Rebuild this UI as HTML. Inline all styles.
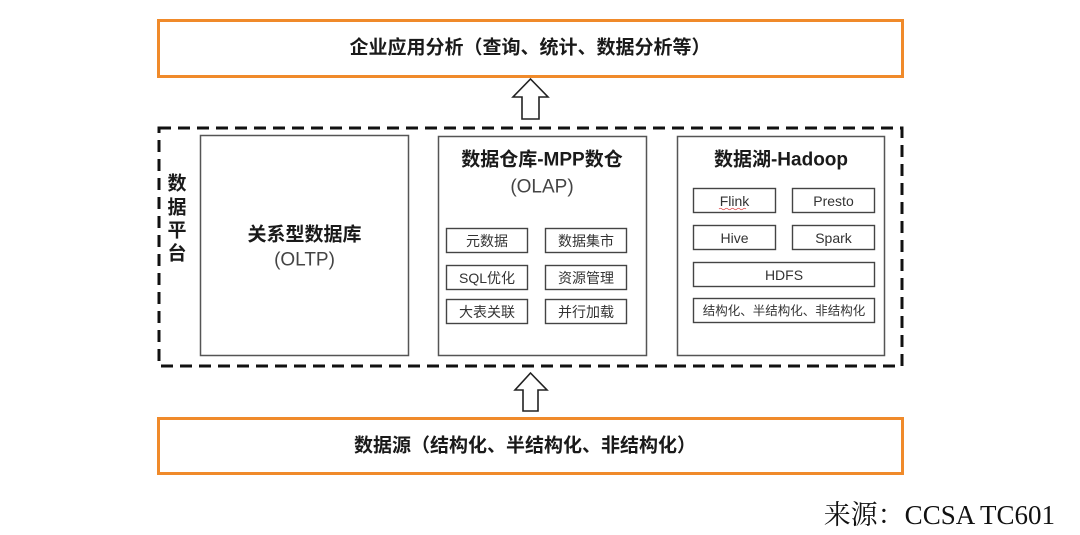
<!DOCTYPE html>
<html>
<head>
<meta charset="utf-8">
<style>
  html,body{margin:0;padding:0;background:#fff;}
  svg{display:block;}
  .b{font-family:"Liberation Sans","Noto Sans CJK SC",sans-serif;font-weight:bold;fill:#1a1a1a;}
  .r{font-family:"Liberation Sans","Noto Sans CJK SC",sans-serif;fill:#444;}
  .s{font-family:"Liberation Sans","Noto Sans CJK SC",sans-serif;fill:#333;font-size:14px;}
</style>
</head>
<body>
<svg width="1080" height="535" viewBox="0 0 1080 535" xmlns="http://www.w3.org/2000/svg">
  <!-- top orange box -->
  <rect x="158.5" y="20.5" width="744" height="56" fill="none" stroke="#f08a2a" stroke-width="3"/>
  <text class="b" x="530" y="48" font-size="19" text-anchor="middle" dominant-baseline="central">企业应用分析（查询、统计、数据分析等）</text>

  <!-- top arrow -->
  <polygon points="530.5,79 548,97 539,97 539,119 522,119 522,97 513,97" fill="#fff" stroke="#222" stroke-width="1.6" stroke-linejoin="miter"/>

  <!-- dashed platform box -->
  <rect x="159" y="128" width="743" height="238" fill="none" stroke="#111" stroke-width="3" stroke-dasharray="12 7"/>

  <!-- 数据平台 -->
  <text class="b" x="177" y="184" font-size="19" text-anchor="middle" dominant-baseline="central">数</text>
  <text class="b" x="177" y="208" font-size="19" text-anchor="middle" dominant-baseline="central">据</text>
  <text class="b" x="177" y="231" font-size="19" text-anchor="middle" dominant-baseline="central">平</text>
  <text class="b" x="177" y="254" font-size="19" text-anchor="middle" dominant-baseline="central">台</text>

  <!-- OLTP box -->
  <rect x="200.5" y="135.5" width="208" height="220" fill="#fff" stroke="#555" stroke-width="1.5"/>
  <text class="b" x="304.5" y="235" font-size="19" text-anchor="middle" dominant-baseline="central">关系型数据库</text>
  <text class="r" x="304.5" y="260" font-size="19" text-anchor="middle" dominant-baseline="central">(OLTP)</text>

  <!-- OLAP box -->
  <rect x="438.5" y="136.5" width="208" height="219" fill="#fff" stroke="#555" stroke-width="1.5"/>
  <text class="b" x="542" y="160" font-size="19" text-anchor="middle" dominant-baseline="central">数据仓库-MPP数仓</text>
  <text class="r" x="542" y="187" font-size="19" text-anchor="middle" dominant-baseline="central">(OLAP)</text>

  <g fill="#fff" stroke="#444" stroke-width="1.4">
    <rect x="446.5" y="228.5" width="81" height="24"/>
    <rect x="545.5" y="228.5" width="81" height="24"/>
    <rect x="446.5" y="265.5" width="81" height="24"/>
    <rect x="545.5" y="265.5" width="81" height="24"/>
    <rect x="446.5" y="299.5" width="81" height="24"/>
    <rect x="545.5" y="299.5" width="81" height="24"/>
  </g>
  <text class="s" x="487" y="241" text-anchor="middle" dominant-baseline="central">元数据</text>
  <text class="s" x="586" y="241" text-anchor="middle" dominant-baseline="central">数据集市</text>
  <text class="s" x="487" y="278" text-anchor="middle" dominant-baseline="central">SQL优化</text>
  <text class="s" x="586" y="278" text-anchor="middle" dominant-baseline="central">资源管理</text>
  <text class="s" x="487" y="312" text-anchor="middle" dominant-baseline="central">大表关联</text>
  <text class="s" x="586" y="312" text-anchor="middle" dominant-baseline="central">并行加载</text>

  <!-- Hadoop box -->
  <rect x="677.5" y="136.5" width="207" height="219" fill="#fff" stroke="#555" stroke-width="1.5"/>
  <text class="b" x="781" y="160" font-size="19" text-anchor="middle" dominant-baseline="central">数据湖-Hadoop</text>

  <g fill="#fff" stroke="#444" stroke-width="1.4">
    <rect x="693.5" y="188.5" width="82" height="24"/>
    <rect x="792.5" y="188.5" width="82" height="24"/>
    <rect x="693.5" y="225.5" width="82" height="24"/>
    <rect x="792.5" y="225.5" width="82" height="24"/>
    <rect x="693.5" y="262.5" width="181" height="24"/>
    <rect x="693.5" y="298.5" width="181" height="24"/>
  </g>
  <text class="s" x="734.5" y="201" text-anchor="middle" dominant-baseline="central">Flink</text>
  <path d="M719,209 q1.5,-1.5 3,0 t3,0 t3,0 t3,0 t3,0 t3,0 t3,0 t3,0 t3,0" fill="none" stroke="#e04040" stroke-width="0.8"/>
  <text class="s" x="833.5" y="201" text-anchor="middle" dominant-baseline="central">Presto</text>
  <text class="s" x="734.5" y="238" text-anchor="middle" dominant-baseline="central">Hive</text>
  <text class="s" x="833.5" y="238" text-anchor="middle" dominant-baseline="central">Spark</text>
  <text class="s" x="784" y="275" text-anchor="middle" dominant-baseline="central">HDFS</text>
  <text class="s" x="784" y="311" font-size="12.5" style="font-size:12.5px" text-anchor="middle" dominant-baseline="central">结构化、半结构化、非结构化</text>

  <!-- bottom arrow -->
  <polygon points="530.5,373 547,390 538,390 538,411 523,411 523,390 515,390" fill="#fff" stroke="#222" stroke-width="1.6"/>

  <!-- bottom orange box -->
  <rect x="158.5" y="418.5" width="744" height="55" fill="none" stroke="#f08a2a" stroke-width="3"/>
  <text class="b" x="525" y="446" font-size="19" text-anchor="middle" dominant-baseline="central">数据源（结构化、半结构化、非结构化）</text>

  <!-- source -->
  <text x="1055" y="515" font-size="27" text-anchor="end" dominant-baseline="central" fill="#111" style="font-family:'Liberation Serif','Noto Serif CJK SC',serif;">来源：CCSA TC601</text>
</svg>
</body>
</html>
